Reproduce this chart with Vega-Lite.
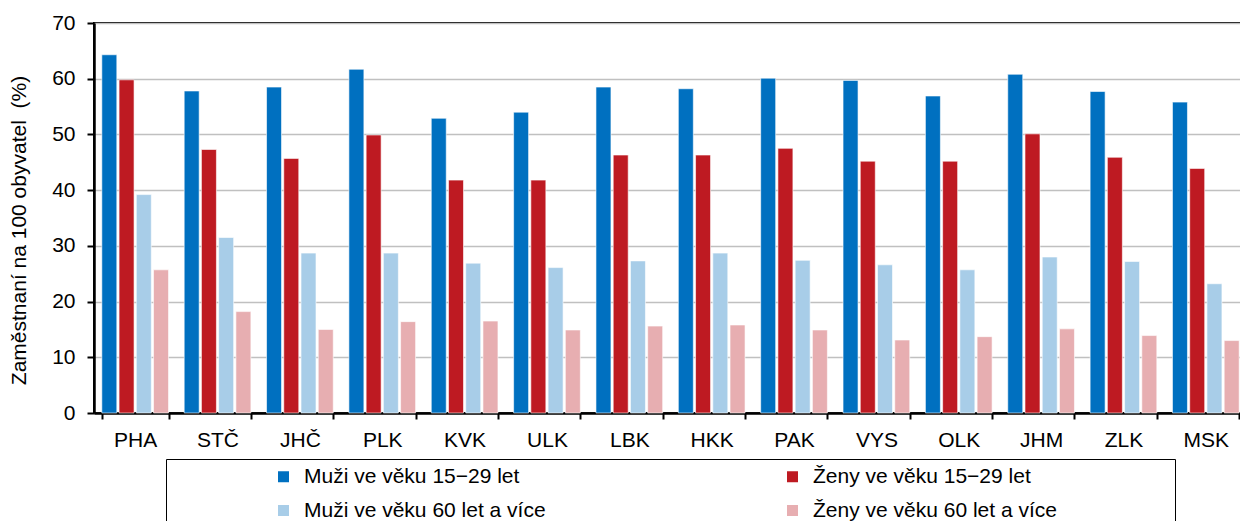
{
  "$schema": "https://vega.github.io/schema/vega-lite/v6.json",
  "width": 1153,
  "height": 390,
  "padding": {"left": 8, "top": 12, "right": 0, "bottom": 0},
  "config": {
    "font": "Liberation Sans",
    "view": {"stroke": "#000", "strokeWidth": 2},
    "axis": {"labelFont": "Liberation Sans", "titleFont": "Liberation Sans"},
    "legend": {"labelFont": "Liberation Sans", "titleFont": "Liberation Sans"}
  },
  "data": {
    "values": [
      {"kraj": "PHA", "s": "Muži ve věku 15−29 let", "v": 64.3},
      {"kraj": "PHA", "s": "Ženy ve věku 15−29 let", "v": 59.8},
      {"kraj": "PHA", "s": "Muži ve věku 60 let a více", "v": 39.2},
      {"kraj": "PHA", "s": "Ženy ve věku 60 let a více", "v": 25.7},
      {"kraj": "STČ", "s": "Muži ve věku 15−29 let", "v": 57.8},
      {"kraj": "STČ", "s": "Ženy ve věku 15−29 let", "v": 47.3},
      {"kraj": "STČ", "s": "Muži ve věku 60 let a více", "v": 31.5},
      {"kraj": "STČ", "s": "Ženy ve věku 60 let a více", "v": 18.2},
      {"kraj": "JHČ", "s": "Muži ve věku 15−29 let", "v": 58.5},
      {"kraj": "JHČ", "s": "Ženy ve věku 15−29 let", "v": 45.7},
      {"kraj": "JHČ", "s": "Muži ve věku 60 let a více", "v": 28.7},
      {"kraj": "JHČ", "s": "Ženy ve věku 60 let a více", "v": 15.0},
      {"kraj": "PLK", "s": "Muži ve věku 15−29 let", "v": 61.7},
      {"kraj": "PLK", "s": "Ženy ve věku 15−29 let", "v": 49.9},
      {"kraj": "PLK", "s": "Muži ve věku 60 let a více", "v": 28.7},
      {"kraj": "PLK", "s": "Ženy ve věku 60 let a více", "v": 16.4},
      {"kraj": "KVK", "s": "Muži ve věku 15−29 let", "v": 52.9},
      {"kraj": "KVK", "s": "Ženy ve věku 15−29 let", "v": 41.8},
      {"kraj": "KVK", "s": "Muži ve věku 60 let a více", "v": 26.9},
      {"kraj": "KVK", "s": "Ženy ve věku 60 let a více", "v": 16.5},
      {"kraj": "ULK", "s": "Muži ve věku 15−29 let", "v": 54.0},
      {"kraj": "ULK", "s": "Ženy ve věku 15−29 let", "v": 41.8},
      {"kraj": "ULK", "s": "Muži ve věku 60 let a více", "v": 26.1},
      {"kraj": "ULK", "s": "Ženy ve věku 60 let a více", "v": 14.9},
      {"kraj": "LBK", "s": "Muži ve věku 15−29 let", "v": 58.5},
      {"kraj": "LBK", "s": "Ženy ve věku 15−29 let", "v": 46.3},
      {"kraj": "LBK", "s": "Muži ve věku 60 let a více", "v": 27.3},
      {"kraj": "LBK", "s": "Ženy ve věku 60 let a více", "v": 15.6},
      {"kraj": "HKK", "s": "Muži ve věku 15−29 let", "v": 58.2},
      {"kraj": "HKK", "s": "Ženy ve věku 15−29 let", "v": 46.3},
      {"kraj": "HKK", "s": "Muži ve věku 60 let a více", "v": 28.7},
      {"kraj": "HKK", "s": "Ženy ve věku 60 let a více", "v": 15.8},
      {"kraj": "PAK", "s": "Muži ve věku 15−29 let", "v": 60.1},
      {"kraj": "PAK", "s": "Ženy ve věku 15−29 let", "v": 47.5},
      {"kraj": "PAK", "s": "Muži ve věku 60 let a více", "v": 27.4},
      {"kraj": "PAK", "s": "Ženy ve věku 60 let a více", "v": 14.9},
      {"kraj": "VYS", "s": "Muži ve věku 15−29 let", "v": 59.7},
      {"kraj": "VYS", "s": "Ženy ve věku 15−29 let", "v": 45.2},
      {"kraj": "VYS", "s": "Muži ve věku 60 let a více", "v": 26.6},
      {"kraj": "VYS", "s": "Ženy ve věku 60 let a více", "v": 13.1},
      {"kraj": "OLK", "s": "Muži ve věku 15−29 let", "v": 56.9},
      {"kraj": "OLK", "s": "Ženy ve věku 15−29 let", "v": 45.2},
      {"kraj": "OLK", "s": "Muži ve věku 60 let a více", "v": 25.7},
      {"kraj": "OLK", "s": "Ženy ve věku 60 let a více", "v": 13.7},
      {"kraj": "JHM", "s": "Muži ve věku 15−29 let", "v": 60.8},
      {"kraj": "JHM", "s": "Ženy ve věku 15−29 let", "v": 50.1},
      {"kraj": "JHM", "s": "Muži ve věku 60 let a více", "v": 28.0},
      {"kraj": "JHM", "s": "Ženy ve věku 60 let a více", "v": 15.1},
      {"kraj": "ZLK", "s": "Muži ve věku 15−29 let", "v": 57.7},
      {"kraj": "ZLK", "s": "Ženy ve věku 15−29 let", "v": 45.9},
      {"kraj": "ZLK", "s": "Muži ve věku 60 let a více", "v": 27.2},
      {"kraj": "ZLK", "s": "Ženy ve věku 60 let a více", "v": 13.9},
      {"kraj": "MSK", "s": "Muži ve věku 15−29 let", "v": 55.8},
      {"kraj": "MSK", "s": "Ženy ve věku 15−29 let", "v": 43.9},
      {"kraj": "MSK", "s": "Muži ve věku 60 let a více", "v": 23.2},
      {"kraj": "MSK", "s": "Ženy ve věku 60 let a více", "v": 13.0}
    ]
  },
  "mark": {"type": "bar", "stroke": "#ffffff", "strokeWidth": 1, "strokeOpacity": 0.6},
  "encoding": {
    "x": {
      "field": "kraj", "type": "nominal",
      "sort": ["PHA","STČ","JHČ","PLK","KVK","ULK","LBK","HKK","PAK","VYS","OLK","JHM","ZLK","MSK"],
      "scale": {"paddingInner": 0.19, "paddingOuter": 0.095},
      "axis": {
        "title": null, "labelAngle": 0, "labelFontSize": 21, "labelColor": "#000",
        "labelPadding": 10, "tickBand": "extent", "tickSize": 6, "tickColor": "#000", "tickWidth": 2,
        "domainColor": "#000", "domainWidth": 2.5, "grid": false
      }
    },
    "xOffset": {
      "field": "s", "type": "nominal",
      "sort": ["Muži ve věku 15−29 let", "Ženy ve věku 15−29 let", "Muži ve věku 60 let a více", "Ženy ve věku 60 let a více"],
      "scale": {"paddingInner": 0.13}
    },
    "y": {
      "field": "v", "type": "quantitative",
      "scale": {"domain": [0, 70]},
      "axis": {
        "title": "Zaměstnaní na 100 obyvatel\u00a0 (%)", "titleFontSize": 21, "titleFontWeight": "normal", "titleColor": "#000",
        "titlePadding": 22, "titleY": 207,
        "values": [0,10,20,30,40,50,60,70], "labelFontSize": 21, "labelColor": "#000", "labelPadding": 12,
        "tickSize": 7, "tickColor": "#000", "tickWidth": 2, "domainColor": "#000", "domainWidth": 2.5,
        "gridColor": "#c0c0c0", "gridWidth": 1.5
      }
    },
    "color": {
      "field": "s", "type": "nominal",
      "sort": ["Muži ve věku 15−29 let", "Muži ve věku 60 let a více", "Ženy ve věku 15−29 let", "Ženy ve věku 60 let a více"],
      "scale": {"range": ["#0070c0", "#a8cde8", "#be1a22", "#e7aeb1"]},
      "legend": {
        "title": "\u00a0", "titleOrient": "left", "titlePadding": 100, "titleFontSize": 21,
        "orient": "none", "legendX": 72, "legendY": 436, "columns": 2,
        "labelExpr": "datum.label + '\u00a0\u00a0\u00a0\u00a0\u00a0\u00a0\u00a0\u00a0\u00a0\u00a0\u00a0\u00a0\u00a0\u00a0\u00a0\u00a0\u00a0\u00a0\u00a0\u200b'",
        "columnPadding": 125, "rowPadding": 12, "symbolType": "square", "symbolSize": 121,
        "symbolStrokeWidth": 0, "labelFontSize": 21, "labelColor": "#000", "labelLimit": 600,
        "padding": 7, "strokeColor": "#000", "fillColor": "#fff", "labelOffset": 10
      }
    }
  }
}
